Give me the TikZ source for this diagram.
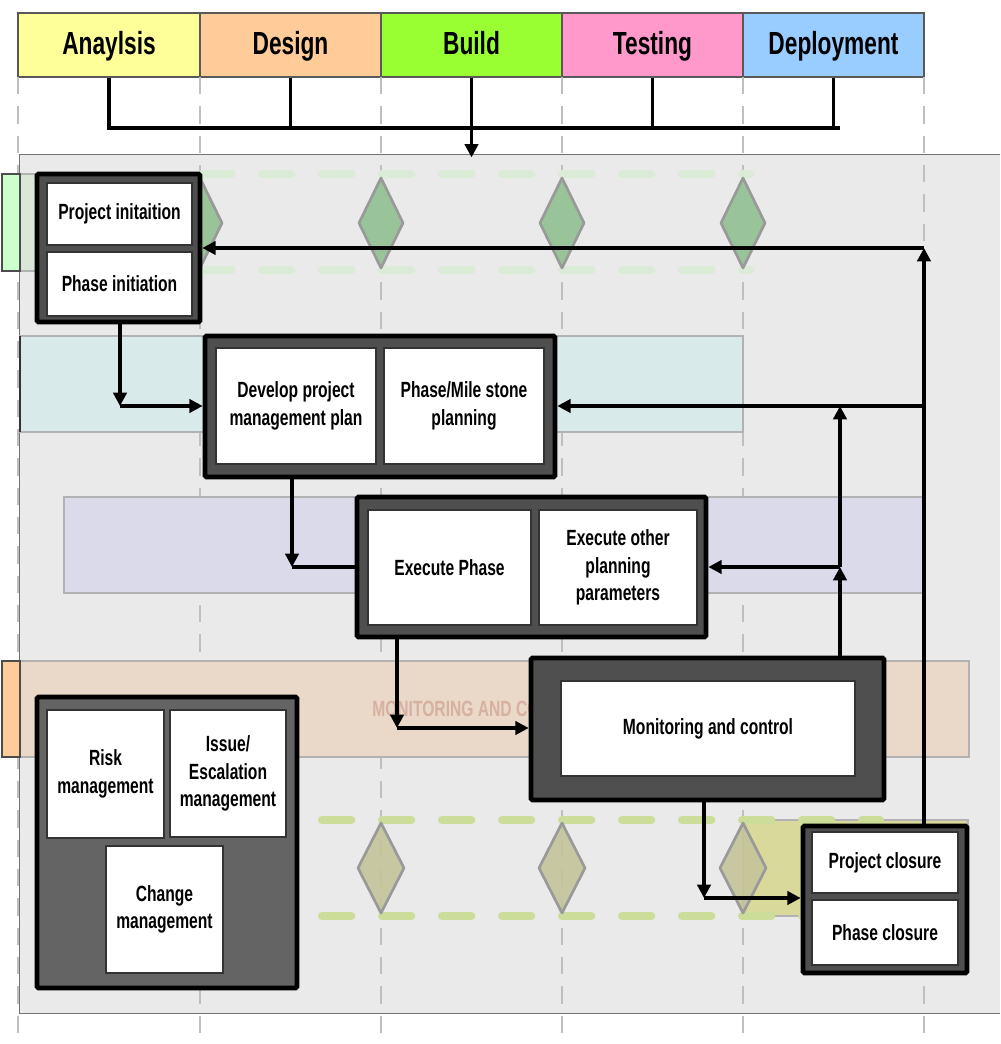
\documentclass[tikz,border=0pt]{standalone}
\usepackage{fontspec}
\setmainfont{Liberation Sans}[FakeStretch=0.71]
\usetikzlibrary{arrows.meta}
\definecolor{cA}{HTML}{FFFF99}
\definecolor{cB}{HTML}{FFCC99}
\definecolor{cC}{HTML}{99FF33}
\definecolor{cD}{HTML}{FF99CC}
\definecolor{cE}{HTML}{99CCFF}
\definecolor{panelc}{HTML}{EAEAEA}
\definecolor{darkbox}{HTML}{4F4F4F}
\definecolor{riskbox}{HTML}{646464}
\definecolor{tealb}{HTML}{D9EAEA}
\definecolor{lavb}{HTML}{DADAEA}
\definecolor{peachb}{HTML}{EAD9C9}
\definecolor{oliveb}{HTML}{D9D99B}
\definecolor{greenb}{HTML}{DAE6DA}
\definecolor{greentab}{HTML}{CCFFCC}
\definecolor{peachtab}{HTML}{FFCC99}
\definecolor{dia1}{HTML}{99C499}
\definecolor{dia2}{HTML}{C4C49A}
\definecolor{dash1}{HTML}{DAEBD6}
\definecolor{dash2}{HTML}{CCDD99}
\definecolor{monlbl}{HTML}{D6B0A0}
\newcommand{\hdrfont}{\fontsize{24}{28}\selectfont\bfseries}
\newcommand{\boxfont}{\fontsize{16.5}{20.5}\selectfont\bfseries}
\tikzset{
  rect/.style args={#1,#2,#3,#4}{minimum width={(#3-#1)*0.75pt}, minimum height={(#4-#2)*0.75pt},
     at={({(#1+#3)/2},{(#2+#4)/2})}},
  hdr/.style={draw=black!65, line width=0.8pt, inner sep=0pt, font=\hdrfont, text height=20pt, text depth=5pt},
  guide/.style={draw=black!25, line width=1.2pt, dash pattern=on 13pt off 9pt},
  band/.style={draw=black!30, line width=0.8pt},
  outerbox/.style={draw=black, line width=3.5pt, fill=darkbox, inner sep=0pt, rounded corners=1pt},
  inbox/.style={draw=black!80, line width=0.8pt, fill=white, inner sep=0pt, align=center, font=\boxfont},
  conn/.style={line width=2.4pt},
  arr/.style={conn, -{Triangle[length=10pt,width=10pt]}},
  milestone/.style={draw=black!40, line width=2pt, line join=round},
  bandline/.style={line width=6pt, line cap=round, dash pattern=on 22pt off 23pt}
}
\begin{document}
\begin{tikzpicture}[x=0.75pt,y=-0.75pt]
\useasboundingbox (0,0) rectangle (1000,1044);
\fill[white] (0,0) rectangle (1000,1044);

% header
\node[hdr, fill=cA, rect={18,13,200,77}] (hA) {Anaylsis};
\node[hdr, fill=cB, rect={200,13,381,77}] (hB) {Design};
\node[hdr, fill=cC, rect={381,13,562,77}] (hC) {Build};
\node[hdr, fill=cD, rect={562,13,743,77}] (hD) {Testing};
\node[hdr, fill=cE, rect={743,13,924,77}] (hE) {Deployment};

% panel
\node[fill=panelc, inner sep=0pt, rect={20,155,1000,1013}] (panel) {};
\draw[black!55, line width=0.9pt] (panel.north east) -- (panel.north west) -- (panel.south west) -- (panel.south east);

% guides
\foreach \gx in {18,200,381,562,743,924}
  \draw[guide] (\gx,77) -- (\gx,1044);

% bands
\draw[band, fill=greenb] (20,174) rectangle (195,271);
\draw[black!70, line width=0.8pt, fill=greentab] (2,174) rectangle (20,271);
\draw[band, fill=tealb] (20,336) rectangle (743,432);
\draw[black!80, line width=1.2pt] (20,336) -- (20,432);
\draw[band, fill=lavb] (64,497) rectangle (924,593);
\draw[band, fill=peachb] (20,661) rectangle (969,757);
\draw[black!70, line width=0.8pt, fill=peachtab] (2,661) rectangle (20,757);
\draw[band, fill=oliveb] (743,820) rectangle (968,916);

% milestone rows
\draw[bandline, dash1] (202,174) -- (750,174);
\draw[bandline, dash1] (202,270) -- (750,270);
\foreach \mx in {200,381,562,743}
  \draw[milestone, fill=dia1] (\mx,178) -- (\mx+22,223) -- (\mx,268) -- (\mx-22,223) -- cycle;
\draw[bandline, dash2] (322,820) -- (880,820);
\draw[bandline, dash2] (322,916) -- (880,916);
\foreach \mx in {381,562,743}
  \draw[milestone, fill=dia2, fill opacity=0.9] (\mx,823) -- (\mx+23,868) -- (\mx,913) -- (\mx-23,868) -- cycle;

\node[anchor=west, text=monlbl, font=\fontsize{16.5}{20}\selectfont\bfseries, inner sep=0pt] (monlabel) at (372,709) {MONITORING AND CONTROL};

% header bus
\coordinate (busL) at (110,128);
\coordinate (busR) at (840,128);
\draw[conn] (hA.south) -- (hA.south |- busL) -- (busR);
\draw[conn] (hB.south) -- (hB.south |- busL);
\draw[conn] (hD.south) -- (hD.south |- busL);
\draw[conn] (hE.south) -- (hE.south |- busL);
\draw[arr] (hC.south) -- ([yshift=-2pt]hC.south |- panel.north);

% boxes
\node[outerbox, rect={37,174,200,322}] (init) {};
\node[inbox, rect={47,183,192,245}] (pinit) {Project initaition};
\node[inbox, rect={47,252,192,316}] (phinit) {Phase initiation};

\node[outerbox, rect={205,336,555,477}] (plan) {};
\node[inbox, rect={216,348,376,464}] (devplan) {Develop project\\management plan};
\node[inbox, rect={384,348,544,464}] (msplan) {Phase/Mile stone\\planning};

\node[outerbox, rect={357,497,706,637}] (exec) {};
\node[inbox, rect={368,510,531,625}] (execph) {Execute Phase};
\node[inbox, rect={539,510,697,625}] (execoth) {Execute other\\planning\\parameters};

\node[outerbox, rect={531,658,884,800}] (mon) {};
\node[inbox, rect={561,681,855,776}] (monin) {Monitoring and control};

\node[outerbox, fill=riskbox, rect={37,697,297,988}] (riskgrp) {};
\node[inbox, rect={47,710,164,838}] (risk) {Risk\\management};
\node[inbox, rect={170,710,286,837}] (issue) {Issue/\\Escalation\\management};
\node[inbox, rect={106,846,223,973}] (change) {Change\\management};

\node[outerbox, rect={803,826,967,973}] (close) {};
\node[inbox, rect={812,832,958,893}] (pclose) {Project closure};
\node[inbox, rect={812,900,958,965}] (phclose) {Phase closure};

% connectors
\coordinate (c1) at (120,406);
\draw[arr] (c1 |- init.south) -- (c1);
\draw[arr] (c1) -- (c1 -| plan.west);

\coordinate (c2) at (292,567);
\draw[arr] (c2 |- plan.south) -- (c2);
\draw[conn] (c2) -- (c2 -| exec.west);

\coordinate (c3) at (397,728);
\draw[arr] (c3 |- exec.south) -- (c3);
\draw[arr] (c3) -- (c3 -| mon.west);

\coordinate (c4) at (704,898);
\draw[arr] (c4 |- mon.south) -- (c4);
\draw[arr] (c4) -- (c4 -| close.west);

\coordinate (c5) at (840,567);
\coordinate (c6) at (840,406);
\draw[arr] (c5 |- mon.north) -- (c5);
\draw[arr] (c5) -- (c6);
\draw[arr] (c5) -- (c5 -| exec.east);

\coordinate (c7) at (924,248);
\coordinate (c8) at (924,406);
\draw[arr] (c7 |- close.north) -- (c7);
\draw[arr] (c7) -- (c7 -| init.east);
\draw[arr] (c8) -- (c8 -| plan.east);
\end{tikzpicture}
\end{document}
